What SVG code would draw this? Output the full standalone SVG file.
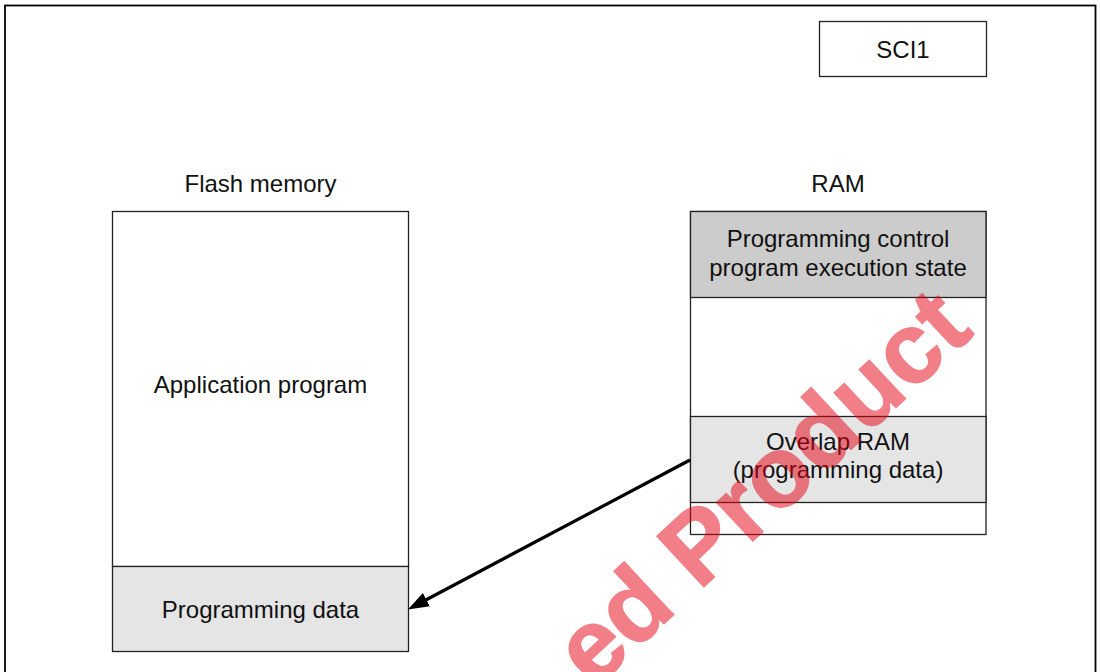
<svg xmlns="http://www.w3.org/2000/svg" width="1100" height="672" viewBox="0 0 1100 672">
  <defs>
    <style>
      .box { stroke: #222; stroke-width: 1.3; }
      .white { fill: #ffffff; }
      .light { fill: #e5e5e5; }
      .dark { fill: #cccccc; }
      .lbl { font-family: "Liberation Sans", Arial, sans-serif; font-size: 24px; fill: #111; text-anchor: middle; }
      .conn { stroke: #000; stroke-width: 3.2; fill: none; }
      .wm { font-family: "Liberation Sans", Arial, sans-serif; font-weight: bold; font-size: 100px; fill: #e60012; stroke: #e60012; stroke-width: 1.5; opacity: 0.5; }
    </style>
    <marker id="arrow" markerUnits="userSpaceOnUse" markerWidth="21" markerHeight="15" refX="5" refY="7.5" orient="auto">
      <path d="M0,0 L21,7.5 L0,15 z" fill="#000"/>
    </marker>
  </defs>

  <rect x="0" y="0" width="1100" height="672" fill="#ffffff"/>
  <rect id="frame" x="5" y="5.5" width="1090.5" height="700" fill="none" stroke="#000" stroke-width="1.8"/>

  <g id="sci1">
    <rect class="box white" x="819.5" y="21.5" width="167" height="55"/>
    <text class="lbl" x="903" y="58">SCI1</text>
  </g>

  <g id="flash-memory">
    <text class="lbl" x="260.5" y="192">Flash memory</text>
    <rect class="box white" x="112.5" y="211.5" width="296" height="355"/>
    <text class="lbl" x="260.5" y="393">Application program</text>
  </g>

  <g id="flash-programming-data">
    <rect class="box light" x="112.5" y="566.5" width="296" height="85"/>
    <text class="lbl" x="260.5" y="618">Programming data</text>
  </g>

  <g id="ram">
    <text class="lbl" x="838" y="192">RAM</text>
    <rect class="box white" x="690.5" y="211.5" width="295.5" height="323"/>
  </g>

  <g id="ram-control-state">
    <rect class="box dark" x="690.5" y="211.5" width="295.5" height="86"/>
    <text class="lbl" x="838" y="247">Programming control</text>
    <text class="lbl" x="838" y="276">program execution state</text>
  </g>

  <g id="ram-overlap">
    <rect class="box light" x="690.5" y="416.5" width="295.5" height="86"/>
    <text class="lbl" x="838" y="449.5">Overlap RAM</text>
    <text class="lbl" x="838" y="478">(programming data)</text>
  </g>

  <g id="connectors">
    <line class="conn" x1="690" y1="460" x2="422" y2="602" marker-end="url(#arrow)"/>
  </g>

  <text class="wm" transform="translate(593.4,689.7) rotate(-43)">ed Product</text>
</svg>
